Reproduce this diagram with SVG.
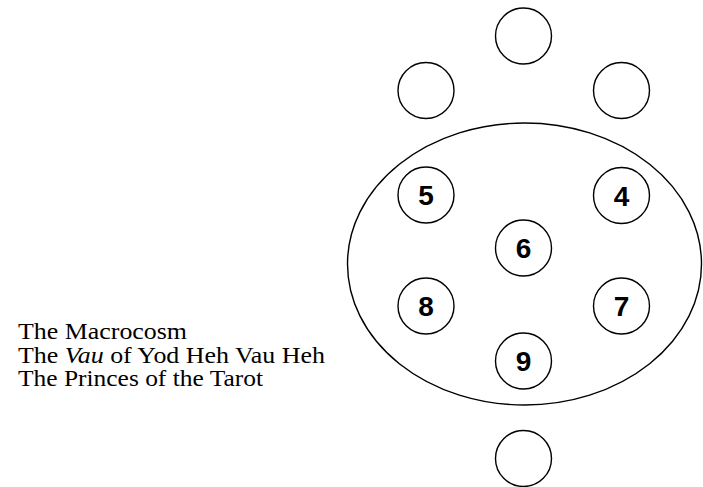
<svg xmlns="http://www.w3.org/2000/svg" width="703" height="487" viewBox="0 0 703 487">
<style>
.c{fill:none;stroke:#000;stroke-width:1.4}
.n{font-family:"Liberation Sans",Arial,sans-serif;font-weight:bold;font-size:28px;text-anchor:middle;fill:#000}
.t{font-family:"Liberation Serif","Times New Roman",serif;font-size:23px;fill:#000}
</style>
<rect width="703" height="487" fill="#fff"/>
<g id="outer"><ellipse class="c" cx="524.5" cy="264" rx="177" ry="141"/></g>
<g id="top"><circle class="c" cx="523.5" cy="36" r="28"/></g>
<g id="upper-left"><circle class="c" cx="426" cy="90.5" r="28"/></g>
<g id="upper-right"><circle class="c" cx="621.5" cy="90.5" r="28"/></g>
<g id="n5"><circle class="c" cx="426" cy="195" r="28"/><text class="n" x="426" y="205">5</text></g>
<g id="n4"><circle class="c" cx="621.5" cy="195.5" r="28"/><text class="n" x="621.5" y="205.5">4</text></g>
<g id="n6"><circle class="c" cx="523.5" cy="248" r="28"/><text class="n" x="523.5" y="258">6</text></g>
<g id="n8"><circle class="c" cx="426" cy="306" r="28"/><text class="n" x="426" y="316">8</text></g>
<g id="n7"><circle class="c" cx="621.5" cy="306" r="28"/><text class="n" x="621.5" y="316">7</text></g>
<g id="n9"><circle class="c" cx="523.5" cy="361" r="28"/><text class="n" x="523.5" y="371">9</text></g>
<g id="bottom"><circle class="c" cx="523.5" cy="458.5" r="28"/></g>
<g id="connectors"></g>
<g id="caption">
<text class="t" x="18" y="339" textLength="169" lengthAdjust="spacingAndGlyphs">The Macrocosm</text>
<text class="t" x="18" y="362.5" textLength="307" lengthAdjust="spacingAndGlyphs">The <tspan font-style="italic">Vau</tspan> of Yod Heh Vau Heh</text>
<text class="t" x="18" y="386" textLength="245" lengthAdjust="spacingAndGlyphs">The Princes of the Tarot</text>
</g>
</svg>
